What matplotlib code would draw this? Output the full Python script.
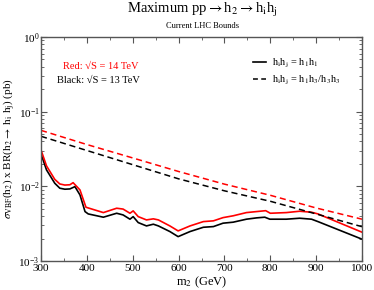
import matplotlib
matplotlib.use("Agg")
import matplotlib.pyplot as plt
import numpy as np
from matplotlib.ticker import FixedLocator, NullFormatter, LogLocator
from matplotlib.lines import Line2D

plt.rcParams['font.family'] = ['Liberation Serif', 'DejaVu Serif']
plt.rcParams['mathtext.fontset'] = 'stix'

# black solid (13 TeV, h1h1)
m_black = [300, 312, 330, 341, 352, 363, 374, 385, 396, 403, 436, 465, 479, 494, 501, 512, 530, 545, 556, 581, 599, 625, 654, 676, 697, 719, 748, 770, 788, 799, 835, 864, 890, 904, 1000]
v_black = [0.0272, 0.0166, 0.0110, 0.00944, 0.00915, 0.00923, 0.00991, 0.00767, 0.00459, 0.00427, 0.00386, 0.00436, 0.00414, 0.00363, 0.00393, 0.00327, 0.00295, 0.00311, 0.00295, 0.00248, 0.00212, 0.00248, 0.00283, 0.00289, 0.00321, 0.00331, 0.00363, 0.00378, 0.00386, 0.00363, 0.00363, 0.00374, 0.00363, 0.00337, 0.00196]

# red solid (14 TeV, h1h1)
m_red = [300, 312, 330, 341, 352, 363, 370, 385, 398, 436, 465, 479, 494, 501, 512, 530, 545, 556, 581, 599, 625, 654, 676, 697, 719, 748, 770, 790, 800, 835, 864, 890, 904, 1000]
v_red = [0.0307, 0.0188, 0.0124, 0.01076, 0.0104, 0.0105, 0.0112, 0.00895, 0.00525, 0.00445, 0.00509, 0.00496, 0.00436, 0.00469, 0.00393, 0.00355, 0.00367, 0.00355, 0.00295, 0.00253, 0.00295, 0.00337, 0.00345, 0.00381, 0.00403, 0.00445, 0.00459, 0.00472, 0.00436, 0.00445, 0.00464, 0.00450, 0.00427, 0.00243]

# dashed curves
m_dash = [300, 400, 500, 600, 700, 800, 900, 1000]
v_red_dash = [0.0562, 0.0363, 0.0240, 0.0158, 0.0107, 0.00759, 0.00513, 0.00363]
v_black_dash = [0.0468, 0.0302, 0.0195, 0.0126, 0.00871, 0.00631, 0.00427, 0.00288]

xticks = [300, 400, 500, 600, 700, 800, 900, 1000]

fig = plt.figure(figsize=(3.74, 2.9), dpi=100)
ax = fig.add_axes([41/374, 29/290, 321/374, 224/290])

ax.plot(m_black, v_black, color='black', lw=1.2)
ax.plot(m_red, v_red, color='red', lw=1.2)
ax.plot(m_dash, v_red_dash, color='red', lw=1.1, dashes=(4, 2.5))
ax.plot(m_dash, v_black_dash, color='black', lw=1.1, dashes=(4, 2.5))

ax.set_yscale('log')
ax.set_xlim(300, 1000)
ax.set_ylim(1e-3, 1)
ax.xaxis.set_major_locator(FixedLocator(xticks))
ax.xaxis.set_minor_locator(FixedLocator(list(range(350, 1000, 100))))
ax.set_xticklabels([str(t) for t in xticks])
ax.yaxis.set_major_locator(LogLocator(base=10, numticks=10))
ax.yaxis.set_minor_locator(LogLocator(base=10, subs=np.arange(2, 10), numticks=10))
ax.yaxis.set_minor_formatter(NullFormatter())

for s in ax.spines.values():
    s.set_color('#555555')
    s.set_linewidth(1.0)
ax.tick_params(which='both', direction='in', top=True, right=True, colors='#555555', labelcolor='black', labelsize=8)
ax.tick_params(which='major', length=4, width=0.8)
ax.tick_params(which='minor', length=2, width=0.6)
ax.tick_params(axis='x', pad=2)
ax.tick_params(axis='y', pad=1)

ax.set_xlabel(r'm$_2$ (GeV)', fontsize=9, labelpad=1)
ax.set_ylabel(r'$\sigma_{\mathrm{VBF}}$(h$_2$) x BR(h$_2\rightarrow$ h$_\mathrm{i}$ h$_\mathrm{j}$) (pb)', fontsize=8, labelpad=1)

fig.text(202/374, 1 - 10/290, r'Maximum pp$\rightarrow$h$_2\rightarrow$h$_\mathrm{i}$h$_\mathrm{j}$', ha='center', va='center', fontsize=10.5)
fig.text(202/374, 1 - 26/290, 'Current LHC Bounds', ha='center', va='center', fontsize=6)

fig.text(63/374, 1 - 66/290, 'Red: \u221aS = 14 TeV', fontsize=7.5, color='red', va='center')
fig.text(57/374, 1 - 80/290, 'Black: \u221aS = 13 TeV', fontsize=7.5, color='black', va='center')

# legend
h1 = Line2D([], [], color='black', lw=1.2)
h2 = Line2D([], [], color='black', lw=1.1, dashes=(3.2, 2.2))
leg = fig.legend([h1, h2], [r'h$_\mathrm{i}$h$_\mathrm{j}$ = h$_1$h$_1$', r'h$_\mathrm{i}$h$_\mathrm{j}$ = h$_1$h$_3$/h$_3$h$_3$'],
                 loc='upper left', bbox_to_anchor=(253/374, 1 - 57/290), frameon=False, fontsize=7.5,
                 handlelength=1.2, handletextpad=0.6, labelspacing=0.4, borderpad=0, borderaxespad=0)

fig.savefig('out.png', dpi=100)
